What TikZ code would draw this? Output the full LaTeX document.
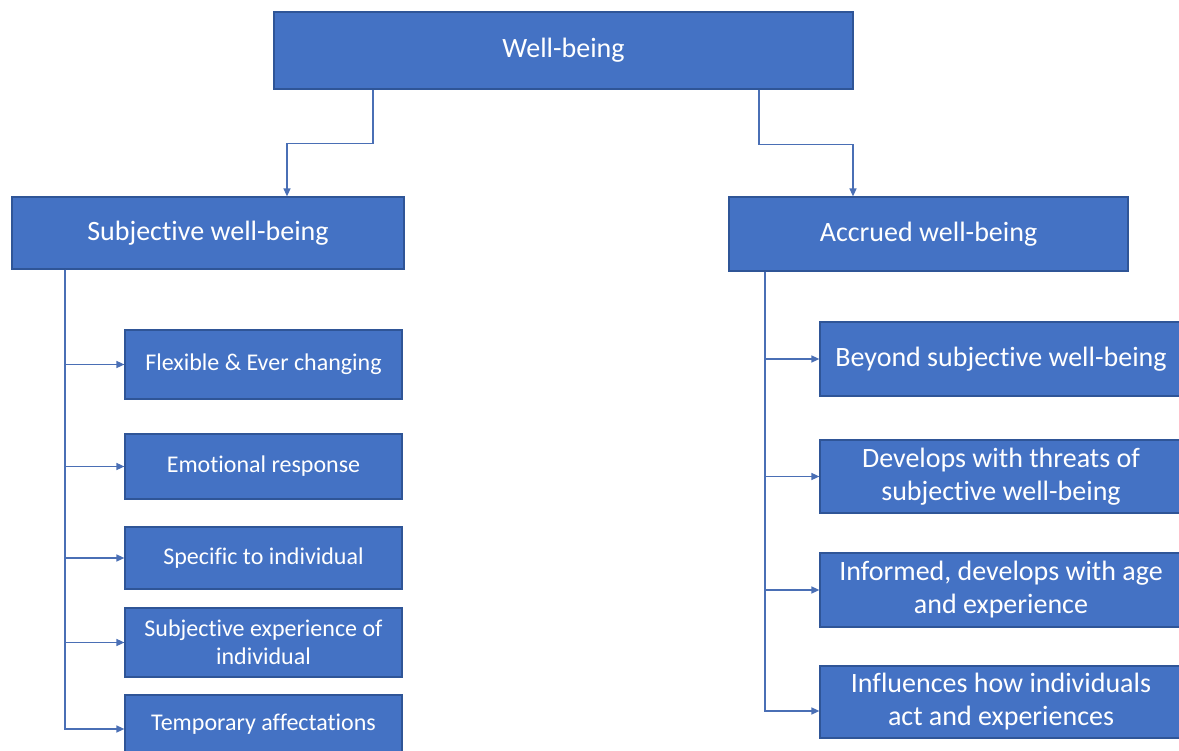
\documentclass[tikz,border=0pt]{standalone}
\usepackage{fontspec}
\setmainfont[Ligatures=NoCommon]{Carlito}
\usetikzlibrary{arrows.meta}
\definecolor{boxblue}{HTML}{4472C4}
\definecolor{edgeblue}{HTML}{2F5597}
\definecolor{lineblue}{HTML}{4A6FB5}
\begin{document}
\begin{tikzpicture}[x=1pt, y=-1pt,
    box/.style={draw=edgeblue, line width=1.2pt, fill=boxblue, text=white, align=center, inner sep=0pt},
    head/.style={box, font=\fontsize{28}{33}\selectfont},
    leaf/.style={box, font=\fontsize{24}{28.5}\selectfont, minimum width=277pt},
    rleaf/.style={box, font=\fontsize{28}{33}\selectfont, minimum width=362pt},
    link/.style={draw=lineblue, line width=1.4pt, -{Triangle[length=8pt,width=7pt]}}]
    \useasboundingbox (0,0) rectangle (1179,751);

    \node[head, minimum width=579pt, minimum height=77pt] (wb) at (563.5, 50.5) {Well-being};
    \node[head, minimum width=392pt, minimum height=72pt] (swb) at (208, 233) {Subjective well-being};
    \node[head, minimum width=399pt, minimum height=74pt] (awb) at (928.5, 234) {Accrued well-being};

    \node[leaf, minimum height=69pt] (flex) at (263.5, 364.5) {Flexible \& Ever changing};
    \node[leaf, minimum height=65pt] (emo) at (263.5, 466.5) {Emotional response};
    \node[leaf, minimum height=62pt] (spec) at (263.5, 558) {Specific to individual};
    \node[leaf, minimum height=69pt] (subexp) at (263.5, 642.5) {Subjective experience of\\individual};
    \node[leaf, minimum height=58pt] (temp) at (263.5, 724) {Temporary affectations};

    \node[rleaf, minimum height=74pt] (beyond) at (1001, 359) {Beyond subjective well-being};
    \node[rleaf, minimum height=73pt] (threat) at (1001, 476.5) {Develops with threats of\\subjective well-being};
    \node[rleaf, minimum height=74pt] (informed) at (1001, 590) {Informed, develops with age\\and experience};
    \node[rleaf, minimum height=72pt] (influ) at (1001, 702) {Influences how individuals\\act and experiences};

    \draw[link] ([xshift=-190.5pt]wb.south) -- ++(0,54) -| ([xshift=79pt]swb.north);
    \draw[link] ([xshift=195.5pt]wb.south) -- ++(0,55) -| ([xshift=-75.5pt]awb.north);

    \foreach \n in {flex, emo, spec, subexp}
        \draw[link] ([xshift=-143pt]swb.south) |- (\n.west);
    \draw[link] ([xshift=-143pt]swb.south) |- ([yshift=-5pt]temp.west);

    \foreach \n in {beyond, threat, informed}
        \draw[link] ([xshift=-163.5pt]awb.south) |- (\n.west);
    \draw[link] ([xshift=-163.5pt]awb.south) |- ([yshift=-9pt]influ.west);
\end{tikzpicture}
\end{document}
